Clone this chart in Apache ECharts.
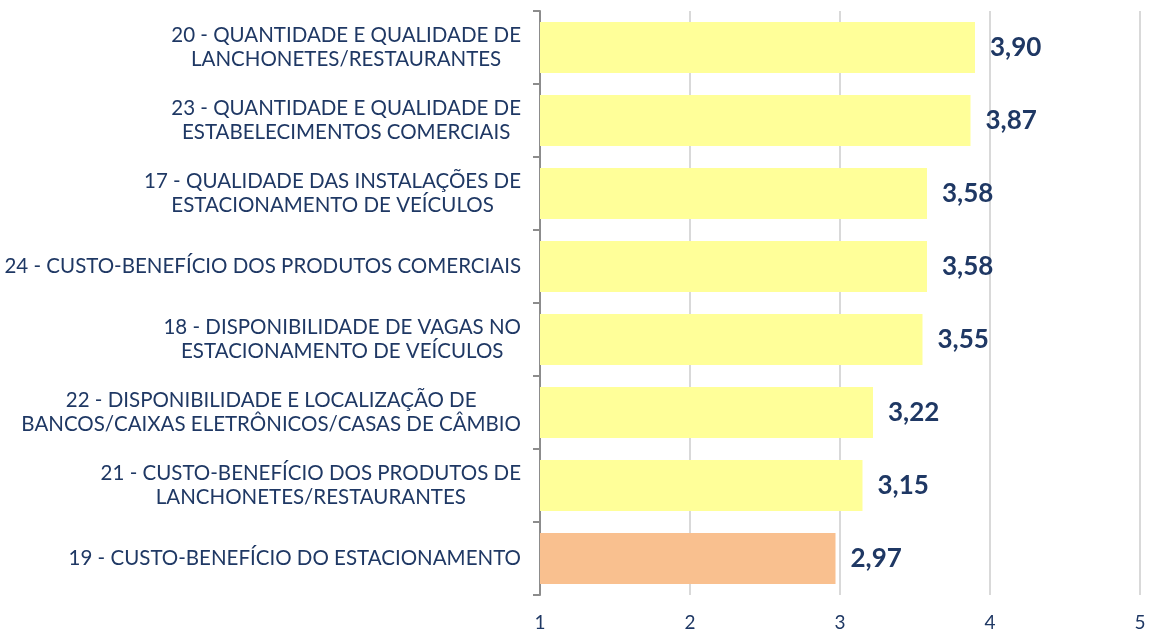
<!DOCTYPE html>
<html><head><meta charset="utf-8">
<script src="https://cdn.jsdelivr.net/npm/echarts@6/dist/echarts.min.js"></script>
<style>html,body{margin:0;padding:0;background:#fff}#c{width:1149px;height:632px}</style>
</head><body><div id="c"></div>
<script>
const categories = [
  "20 - QUANTIDADE E QUALIDADE DE\nLANCHONETES/RESTAURANTES",
  "23 - QUANTIDADE E QUALIDADE DE\nESTABELECIMENTOS COMERCIAIS",
  "17 - QUALIDADE DAS INSTALAÇÕES DE\nESTACIONAMENTO DE VEÍCULOS",
  "24 - CUSTO-BENEFÍCIO DOS PRODUTOS COMERCIAIS",
  "18 - DISPONIBILIDADE DE VAGAS NO\nESTACIONAMENTO DE VEÍCULOS",
  "22 - DISPONIBILIDADE E LOCALIZAÇÃO DE\nBANCOS/CAIXAS ELETRÔNICOS/CASAS DE CÂMBIO",
  "21 - CUSTO-BENEFÍCIO DOS PRODUTOS DE\nLANCHONETES/RESTAURANTES",
  "19 - CUSTO-BENEFÍCIO DO ESTACIONAMENTO"
];
const values = [3.90, 3.87, 3.58, 3.58, 3.55, 3.22, 3.15, 2.97];
const barColors = ["#FFFF99","#FFFF99","#FFFF99","#FFFF99","#FFFF99","#FFFF99","#FFFF99","#F9C08F"];
const xTicks = [1, 2, 3, 4, 5];

const navy = "#1F3864";
const chart = echarts.init(document.getElementById('c'), null, {renderer: 'canvas'});
chart.setOption({
  animation: false,
  grid: {left: 540, right: 9, top: 11, bottom: 33, containLabel: false},
  xAxis: {
    type: 'value', min: xTicks[0], max: xTicks[xTicks.length-1], interval: 1,
    axisLine: {show: false}, axisTick: {show: false},
    splitLine: {show: true, lineStyle: {color: '#D9D9D9', width: 2}},
    axisLabel: {color: navy, fontFamily: 'Lato', fontSize: 19, margin: 18,
      formatter: v => xTicks.indexOf(v) >= 0 ? String(v) : ''}
  },
  yAxis: {
    type: 'category', data: categories, inverse: true,
    axisLine: {show: true, lineStyle: {color: '#8C8C8C', width: 2}},
    axisTick: {show: true, length: 7, lineStyle: {color: '#8C8C8C', width: 2}},
    axisLabel: {
      margin: 19, color: navy, fontFamily: 'Lato', fontSize: 20.5, lineHeight: 24,
      formatter: v => v.split('\n').map(s => '{c|' + s + '}').join('\n'),
      rich: {c: {align: 'center', color: navy, fontFamily: 'Lato', fontSize: 20.5, lineHeight: 24}}
    }
  },
  series: [{
    type: 'bar',
    data: values.map((v, i) => ({value: v, itemStyle: {color: barColors[i]}})),
    barCategoryGap: '30%',
    label: {
      show: true, position: 'right', distance: 15,
      color: navy, fontFamily: 'Lato', fontSize: 26, fontWeight: 'bold',
      formatter: p => p.value.toFixed(2).replace('.', ',')
    }
  }]
});
</script></body></html>
